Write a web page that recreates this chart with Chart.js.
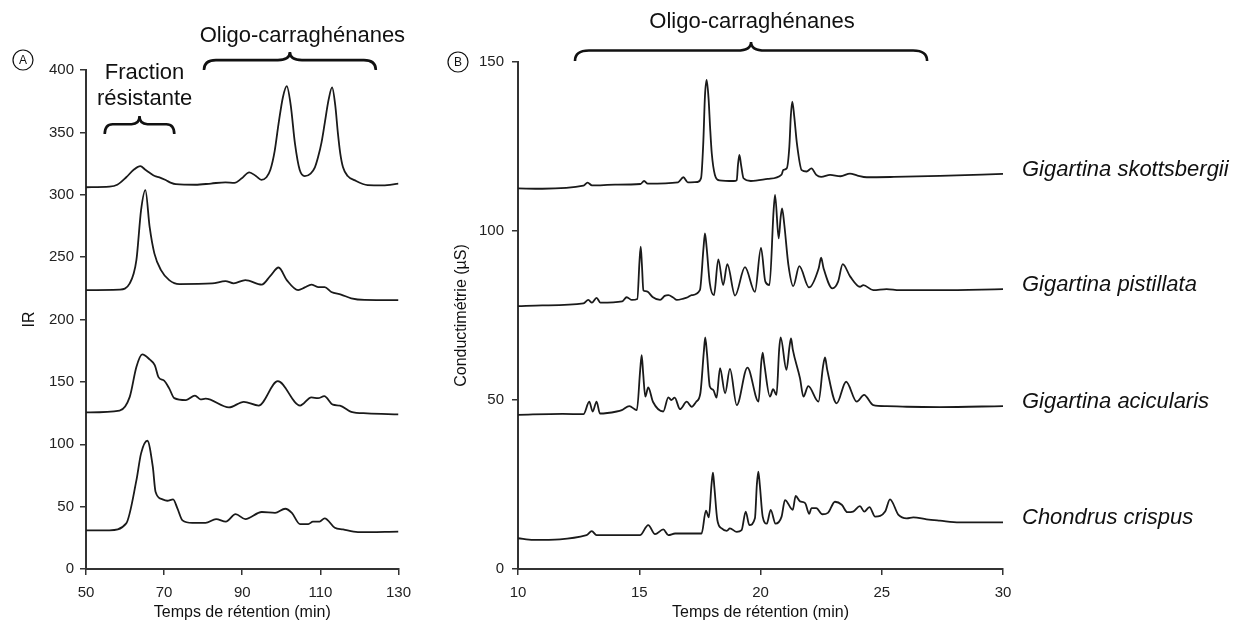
<!DOCTYPE html>
<html>
<head>
<meta charset="utf-8">
<script src="https://cdn.jsdelivr.net/npm/chart.js@4.4.0/dist/chart.umd.min.js"></script>
<style>
  body { margin: 0; background: #fff; }
  #wrap { position: relative; width: 1233px; height: 626px; overflow: hidden; }
  canvas { position: absolute; top: 0; }
  #chartA { left: 0; }
  #chartB { left: 420px; }
</style>
</head>
<body>
<div id="wrap">
  <canvas id="chartA" width="420" height="626"></canvas>
  <canvas id="chartB" width="813" height="626"></canvas>
</div>
<script>
// Panel A - IR detection, retention time (min)
const xTicksA = [50, 70, 90, 110, 130];
const yTicksA = [0, 50, 100, 150, 200, 250, 300, 350, 400];

const timeA1 = [50, 56, 58, 60.3, 62.2, 63.9, 65.2, 66.3, 67.6, 68.8, 70.5, 71.8, 73, 78, 82, 85.7, 88, 89.8, 91.8, 93.5, 94.9, 96.2, 97.2, 98.3, 99.3, 100.4, 101.4, 102.4, 103.5, 104.7, 106, 107.5, 108.6, 109.4, 110.3, 111.1, 112.1, 113, 113.8, 114.5, 115.1, 115.8, 117, 118.7, 122.1, 126, 130];
const irA1 = [306, 306.5, 308, 314, 320, 323, 320, 317.6, 315, 314, 311.6, 309.5, 308.5, 308, 309, 310, 309.5, 313, 318, 315, 312, 314, 320, 335, 357, 378, 387, 372, 341, 320, 315, 317, 322, 330, 342, 357, 376, 386, 372, 349, 333, 322, 315, 311.7, 307.7, 307.5, 309];

const timeA2 = [50, 58.6, 61.2, 62.9, 64.1, 65.2, 66.3, 67.5, 69.2, 71.3, 73.9, 82.3, 85.7, 87.8, 90.8, 95, 97.2, 99.3, 101.4, 104.3, 106, 107.7, 109.4, 111.1, 112.8, 115.3, 117.9, 121.3, 130];
const irA2 = [223.6, 224, 229, 247.6, 287.7, 303.7, 274, 253, 239.6, 231.6, 228.4, 228.9, 230.8, 229, 231.6, 228, 235, 241.7, 231.6, 223.6, 225.7, 228, 226, 226, 222, 220, 217, 215.7, 215.5];

const timeA3 = [50, 58.6, 61.2, 62.9, 64.4, 66.3, 67.6, 68.6, 70, 71.3, 72.6, 75.6, 77.9, 79.3, 80.6, 86.6, 90.4, 94.2, 99.1, 104.8, 107.7, 109.4, 111, 113.2, 115, 117.9, 122, 130];
const irA3 = [125.5, 127, 138, 162, 172, 168, 163.5, 153.6, 151, 144.8, 137, 135.4, 139, 136, 136.5, 129.5, 134, 131, 150.6, 131, 137.6, 136.9, 138.5, 131.7, 131, 126, 124.8, 124];

const timeA4 = [50, 56, 60.3, 62.9, 64.1, 65.7, 67.1, 67.8, 69.6, 70.8, 72.3, 73.4, 74.7, 77.2, 80.6, 83.3, 85.8, 88.3, 90.8, 95, 98.4, 101, 102.7, 104.8, 106.9, 108.1, 109.8, 111.1, 113.7, 115.8, 119.6, 130];
const irA4 = [31, 31, 36.6, 71, 92.7, 102.8, 82, 62, 55.8, 54.7, 55.8, 48.6, 39, 37, 37, 40, 38, 44, 40, 45.7, 45, 48.3, 45, 36, 36, 38, 38, 40.6, 33, 31.7, 29.6, 30];

// Panel B - conductimetry (µS), retention time (min)
const xTicksB = [10, 15, 20, 25, 30];
const yTicksB = [0, 50, 100, 150];
const speciesB = ['Gigartina skottsbergii', 'Gigartina pistillata', 'Gigartina acicularis', 'Chondrus crispus'];

const timeB1 = [10, 11, 12.7, 12.87, 13.05, 14, 15.05, 15.2, 15.35, 16.6, 16.82, 17.0, 17.4, 17.55, 17.64, 17.71, 17.78, 17.86, 17.92, 17.99, 18.12, 18.3, 18.9, 19.02, 19.07, 19.13, 19.2, 19.3, 19.6, 20.3, 20.87, 20.94, 21.08, 21.19, 21.25, 21.31, 21.39, 21.5, 21.7, 21.9, 22.1, 22.3, 22.5, 22.87, 23.3, 23.69, 24.0, 24.38, 25.5, 27.4, 30];
const condB1 = [112.6, 112.5, 113.4, 114.3, 113.5, 113.7, 113.9, 114.8, 114.0, 114.4, 115.9, 114.4, 114.5, 115.7, 126, 140, 144.7, 139, 130.9, 123, 116.6, 115, 114.8, 115, 119.5, 122.5, 119.5, 115.6, 114.8, 115.4, 116.7, 118.1, 118.5, 125, 134, 138.3, 134, 126, 118, 117.6, 118.5, 116.6, 116, 116.6, 116.2, 117, 116.4, 115.9, 116, 116.3, 116.9];

const timeB2 = [10, 11, 12.7, 12.9, 13.05, 13.24, 13.4, 14.3, 14.48, 14.7, 14.92, 15.01, 15.06, 15.11, 15.17, 15.26, 15.35, 15.55, 15.86, 16.05, 16.2, 16.4, 16.55, 16.82, 17.0, 17.16, 17.5, 17.65, 17.71, 17.78, 17.91, 18.08, 18.26, 18.46, 18.63, 18.95, 19.36, 19.77, 20.02, 20.2, 20.37, 20.54, 20.6, 20.75, 20.83, 20.89, 20.98, 21.15, 21.35, 21.6, 22.0, 22.4, 22.5, 22.6, 22.97, 23.2, 23.39, 23.7, 24.1, 24.24, 24.65, 25.2, 25.73, 27.4, 30];
const condB2 = [77.8, 78.0, 78.6, 79.6, 78.8, 80.2, 78.8, 79.2, 80.4, 79.6, 79.9, 91, 95.4, 90, 82.5, 82.2, 82, 80.5, 79.6, 80.8, 81, 80.3, 79.6, 80, 80.4, 81, 82.5, 95, 99.3, 95, 84.5, 81, 91.6, 84, 90.2, 80.9, 89.3, 82, 95, 85, 84, 106, 110.7, 97.8, 104, 106.7, 102, 90, 83.7, 89.6, 83.3, 89, 92.1, 89, 83, 85, 90.2, 86.5, 83.5, 84, 82.5, 82.8, 82.5, 82.5, 82.8];

const timeB3 = [10, 11.84, 12.7, 12.94, 13.08, 13.24, 13.38, 14.07, 14.28, 14.59, 14.9, 15.04, 15.1, 15.16, 15.25, 15.37, 15.57, 15.99, 16.2, 16.32, 16.46, 16.68, 16.96, 17.16, 17.35, 17.52, 17.66, 17.72, 17.79, 17.91, 18.05, 18.19, 18.33, 18.54, 18.74, 19.02, 19.46, 19.92, 20.03, 20.09, 20.15, 20.39, 20.52, 20.66, 20.77, 20.83, 21.07, 21.2, 21.26, 21.33, 21.63, 21.77, 21.97, 22.39, 22.58, 22.66, 22.75, 23.14, 23.53, 23.97, 24.27, 24.65, 25.2, 26.03, 27.4, 30];
const condB3 = [45.6, 45.9, 45.8, 49.5, 46.6, 49.5, 46, 46.6, 47, 48.2, 47, 59, 63.3, 58, 51, 53.7, 49.4, 46.6, 50.8, 50, 50.7, 47.3, 49.5, 48, 49.5, 52, 64, 68.5, 64, 54, 53, 50.7, 59.4, 52, 59.2, 48.5, 59.6, 49.5, 61, 64, 61, 51, 53.2, 51.5, 65, 68.5, 58.9, 66, 68.2, 65, 56.4, 51, 54.1, 49.5, 60, 62.6, 59, 49, 55.4, 49.5, 51.5, 48.5, 48.2, 48, 47.9, 48.2];

const timeB4 = [10, 10.63, 12.83, 13.04, 13.24, 15.03, 15.37, 15.65, 15.99, 16.2, 16.48, 17.09, 17.57, 17.75, 17.87, 17.98, 18.04, 18.1, 18.22, 18.4, 18.61, 18.74, 19.02, 19.22, 19.39, 19.54, 19.77, 19.85, 19.91, 19.97, 20.09, 20.26, 20.42, 20.62, 20.87, 21.01, 21.33, 21.45, 21.63, 21.84, 22.01, 22.1, 22.3, 22.55, 22.78, 23.07, 23.35, 23.58, 23.82, 24.1, 24.28, 24.49, 24.73, 25.14, 25.34, 25.69, 26.03, 26.3, 26.85, 27.4, 28.2, 30];
const condB4 = [9.1, 8.6, 10, 11.2, 10, 10, 13, 10.3, 11.7, 10, 10.5, 10.5, 10.5, 17.3, 15.3, 25, 28.5, 24, 14.5, 12, 11.3, 12, 11, 11.5, 17, 13, 15, 25, 28.8, 25, 15.5, 13.4, 17.5, 13.4, 15.5, 20.4, 17.5, 21.6, 20, 19.5, 16.3, 18, 18, 16.2, 16.6, 19.9, 19, 16.8, 17, 18.6, 17, 18.3, 15.5, 17, 20.6, 16, 15, 15.3, 14.7, 14.3, 13.8, 13.8];

const FONT = "'Liberation Sans', Arial, sans-serif";
const INK = '#111';

const pts = (xs, ys) => xs.map((x, i) => ({ x: x, y: ys[i] }));
const trace = (xs, ys) => ({
  data: pts(xs, ys),
  borderColor: '#1a1a1a',
  borderWidth: 1.8,
  pointRadius: 0,
  fill: false,
  cubicInterpolationMode: 'monotone',
});

function axis(min, max, ticks, title, size, titlePad, tickPad) {
  return {
    type: 'linear',
    min: min,
    max: max,
    afterBuildTicks: (s) => { s.ticks = ticks.map(v => ({ value: v })); },
    afterFit: (s) => { if (s.isHorizontal()) s.height = 57; else s.width = size; },
    grid: { drawOnChartArea: false, drawTicks: true, tickLength: 6, color: '#333', lineWidth: 1.5 },
    border: { display: true, color: '#333', width: 2 },
    ticks: { color: '#222', padding: tickPad, font: { family: FONT, size: 15 } },
    title: { display: true, text: title, color: INK, padding: titlePad, font: { family: FONT, size: 16 } },
  };
}

// curly brace opening downward, y = bottom of the hooks
function brace(ctx, x1, x2, y, h, r) {
  const xm = (x1 + x2) / 2, yl = y - h * 0.55, yt = y - h;
  ctx.save();
  ctx.strokeStyle = INK;
  ctx.lineWidth = 2.6;
  ctx.beginPath();
  ctx.moveTo(x1, y);
  ctx.quadraticCurveTo(x1, yl, x1 + r, yl);
  ctx.lineTo(xm - r, yl);
  ctx.quadraticCurveTo(xm, yl, xm, yt);
  ctx.quadraticCurveTo(xm, yl, xm + r, yl);
  ctx.lineTo(x2 - r, yl);
  ctx.quadraticCurveTo(x2, yl, x2, y);
  ctx.stroke();
  ctx.restore();
}

function text(ctx, str, x, y, size, italic) {
  ctx.save();
  ctx.fillStyle = INK;
  ctx.font = (italic ? 'italic ' : '') + size + 'px ' + FONT;
  ctx.textAlign = italic ? 'left' : 'center';
  ctx.textBaseline = 'middle';
  ctx.fillText(str, x, y);
  ctx.restore();
}

function circled(ctx, letter, x, y) {
  ctx.save();
  ctx.strokeStyle = INK;
  ctx.lineWidth = 1.2;
  ctx.beginPath();
  ctx.arc(x, y, 10, 0, Math.PI * 2);
  ctx.stroke();
  ctx.restore();
  text(ctx, letter, x, y + 1, 12, false);
}

const decorA = {
  id: 'decorA',
  afterDraw(chart) {
    const { ctx, chartArea, scales } = chart;
    const x = scales.x, y = scales.y;
    circled(ctx, 'A', chartArea.left - 63, chartArea.top - 10);
    text(ctx, 'Oligo-carraghénanes', x.getPixelForValue(105.4), chartArea.top - 34, 22);
    brace(ctx, x.getPixelForValue(80.2), x.getPixelForValue(124.2), chartArea.top, 18, 12);
    text(ctx, 'Fraction', x.getPixelForValue(65), y.getPixelForValue(398), 22);
    text(ctx, 'résistante', x.getPixelForValue(65), y.getPixelForValue(377), 22);
    brace(ctx, x.getPixelForValue(54.8), x.getPixelForValue(72.6), y.getPixelForValue(348.6), 18, 8);
  },
};

const lastValuesB = [condB1, condB2, condB3, condB4].map(a => a[a.length - 1]);

const decorB = {
  id: 'decorB',
  afterDraw(chart) {
    const { ctx, chartArea, scales } = chart;
    const x = scales.x, y = scales.y;
    circled(ctx, 'B', chartArea.left - 60, chartArea.top);
    text(ctx, 'Oligo-carraghénanes', x.getPixelForValue(19.65), chartArea.top - 40, 22);
    brace(ctx, x.getPixelForValue(12.35), x.getPixelForValue(26.87), chartArea.top - 1, 19, 14);
    speciesB.forEach((name, i) => {
      text(ctx, name, chartArea.right + 19, y.getPixelForValue(lastValuesB[i]) - 4.5, 22, true);
    });
  },
};

const common = {
  responsive: false,
  animation: false,
  plugins: { legend: { display: false }, tooltip: { enabled: false } },
};

new Chart(document.getElementById('chartA').getContext('2d'), {
  type: 'line',
  data: {
    datasets: [trace(timeA1, irA1), trace(timeA2, irA2), trace(timeA3, irA3), trace(timeA4, irA4)],
  },
  options: Object.assign({}, common, {
    layout: { padding: { top: 70, right: 19, bottom: 0, left: 0 } },
    scales: {
      x: axis(50, 130, xTicksA, 'Temps de rétention (min)', 0, { bottom: 4 }, 9),
      y: axis(0, 400, yTicksA, 'IR', 86, { top: 20 }, 6),
    },
  }),
  plugins: [decorA],
});

new Chart(document.getElementById('chartB').getContext('2d'), {
  type: 'line',
  data: {
    datasets: [trace(timeB1, condB1), trace(timeB2, condB2), trace(timeB3, condB3), trace(timeB4, condB4)],
  },
  options: Object.assign({}, common, {
    layout: { padding: { top: 62, right: 230, bottom: 0, left: 0 } },
    scales: {
      x: axis(10, 30, xTicksB, 'Temps de rétention (min)', 0, { bottom: 4 }, 9),
      y: axis(0, 150, yTicksB, 'Conductimétrie (µS)', 98, { top: 32 }, 8),
    },
  }),
  plugins: [decorB],
});
</script>
</body>
</html>
